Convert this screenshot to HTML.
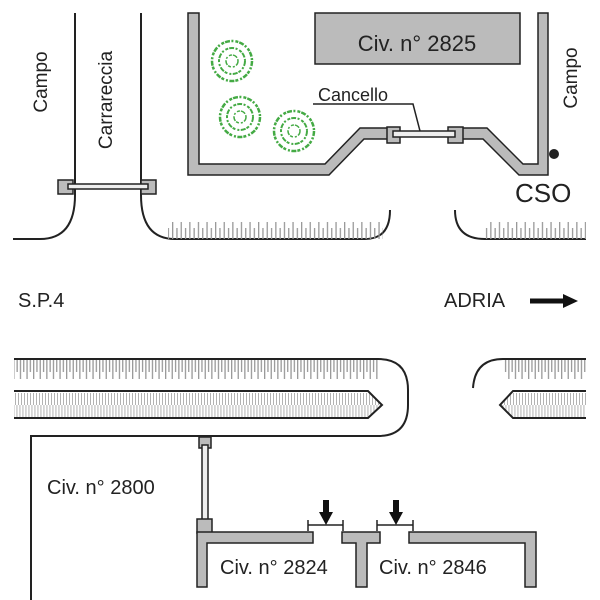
<!DOCTYPE html>
<html><head><meta charset="utf-8"><style>
html,body{margin:0;padding:0;background:#fff;width:600px;height:600px;overflow:hidden}
text{font-family:"Liberation Sans",sans-serif;fill:#222}
</style></head><body>
<svg width="600" height="600" viewBox="0 0 600 600" xmlns="http://www.w3.org/2000/svg">
<defs>
<pattern id="tu" x="0" y="219" width="8.6" height="20" patternUnits="userSpaceOnUse">
<rect x="0" y="3" width="1.3" height="17" fill="#999"/><rect x="4.3" y="9" width="1.3" height="11" fill="#999"/>
</pattern>
<pattern id="td" x="0" y="359" width="6.6" height="22" patternUnits="userSpaceOnUse">
<rect x="0" y="0" width="1.3" height="20" fill="#999"/><rect x="3.3" y="0" width="1.3" height="13" fill="#999"/>
</pattern>
<pattern id="tm" x="0" y="391" width="3" height="27" patternUnits="userSpaceOnUse">
<rect x="0" y="2" width="0.9" height="12" fill="#aaa"/><rect x="1.5" y="14" width="0.9" height="12" fill="#aaa"/>
</pattern>
</defs>
<g stroke="#222" stroke-width="2" fill="none">
<path d="M75 13 V195 Q75 239 40 239 H13"/>
<path d="M141 13 V195 Q141 239 175 239 H365 Q390 239 390 210"/>
<path d="M455 210 Q455 239 485 239 H586"/>
<path d="M14 359 H378 Q408 359 408 390 V405 Q408 436 378 436 H31 V600"/>
<path d="M473 388 Q475 359 503 359 H586"/>
</g>
<rect x="168" y="219" width="215" height="20" fill="url(#tu)"/>
<rect x="485" y="219" width="101" height="20" fill="url(#tu)"/>
<rect x="14" y="360" width="364" height="21" fill="url(#td)"/>
<rect x="503" y="360" width="83" height="21" fill="url(#td)"/>
<path d="M14 391 H368 L382 405 L368 418 H14 Z" fill="url(#tm)"/>
<path d="M14 391 H368 L382 405 L368 418 H14" fill="none" stroke="#222" stroke-width="2"/>
<path d="M586 391 H513 L500 405 L513 418 H586 Z" fill="url(#tm)"/>
<path d="M586 391 H513 L500 405 L513 418 H586" fill="none" stroke="#222" stroke-width="2"/>
<g stroke="#222" stroke-width="1.5">
<rect x="58" y="180" width="15" height="14" fill="#bbb"/>
<rect x="141" y="180" width="15" height="14" fill="#bbb"/>
<rect x="68" y="184" width="80" height="5" fill="#eee"/>
</g>
<path d="M188 13 H199 V164 H325 L360 128 H388 V139 H364 L329 175 H188 Z" fill="#bbb" stroke="#222" stroke-width="1.5"/>
<path d="M462 128 H487 L523 164 H538 V13 H548 V175 H519 L483 139 H462 Z" fill="#bbb" stroke="#222" stroke-width="1.5"/>
<g stroke="#222" stroke-width="1.5">
<rect x="387" y="127" width="13" height="16" fill="#bbb"/>
<rect x="448" y="127" width="15" height="16" fill="#bbb"/>
<rect x="393" y="131" width="62" height="6" fill="#eee"/>
</g>
<circle cx="554" cy="154" r="5" fill="#222"/>
<path d="M313 104 H413 L420 131" fill="none" stroke="#222" stroke-width="1.5"/>
<rect x="315" y="13" width="205" height="51" fill="#bbb" stroke="#222" stroke-width="1.5"/>
<text x="417" y="51" font-size="22" text-anchor="middle">Civ. n° 2825</text>
<text x="318" y="101" font-size="18">Cancello</text>
<text x="515" y="202" font-size="26">CSO</text>
<text transform="translate(47,82) rotate(-90)" font-size="19" text-anchor="middle">Campo</text>
<text transform="translate(112,100) rotate(-90)" font-size="19" text-anchor="middle">Carrareccia</text>
<text transform="translate(577,78) rotate(-90)" font-size="19" text-anchor="middle">Campo</text>
<g fill="none" stroke="#4a4" stroke-width="2.5" stroke-dasharray="5 1.5 2 2 3 1">
<circle cx="232" cy="61" r="20"/><circle cx="232" cy="61" r="13" stroke-width="2"/><circle cx="232" cy="61" r="6" stroke-width="1.5"/>
<circle cx="240" cy="117" r="20"/><circle cx="240" cy="117" r="13" stroke-width="2"/><circle cx="240" cy="117" r="6" stroke-width="1.5"/>
<circle cx="294" cy="131" r="20"/><circle cx="294" cy="131" r="13" stroke-width="2"/><circle cx="294" cy="131" r="6" stroke-width="1.5"/>
</g>
<text x="18" y="307" font-size="20">S.P.4</text>
<text x="444" y="307" font-size="20">ADRIA</text>
<path d="M530 301 H565" stroke="#111" stroke-width="5"/>
<path d="M563 294 L578 301 L563 308 Z" fill="#111"/>
<g stroke="#222" stroke-width="1.5">
<rect x="199" y="437" width="12" height="11" fill="#bbb"/>
<rect x="202" y="445" width="6" height="78" fill="#eee"/>
<rect x="197" y="519" width="15" height="14" fill="#bbb"/>
<path d="M197 532 H313 V543 H207 V587 H197 Z" fill="#bbb"/>
<path d="M342 532 H380 V543 H367 V587 H356 V543 H342 Z" fill="#bbb"/>
<path d="M409 532 H536 V587 H525 V543 H409 Z" fill="#bbb"/>
</g>
<g stroke="#222" stroke-width="1.5" fill="none">
<path d="M308 520 V531 M308 525 H343 M343 520 V531"/>
<path d="M377 520 V531 M377 525 H413 M413 520 V531"/>
</g>
<path d="M323 500 H329 V512 H333 L326 525 L319 512 H323 Z" fill="#111"/>
<path d="M393 500 H399 V512 H403 L396 525 L389 512 H393 Z" fill="#111"/>
<text x="47" y="494" font-size="20">Civ. n° 2800</text>
<text x="220" y="574" font-size="20">Civ. n° 2824</text>
<text x="379" y="574" font-size="20">Civ. n° 2846</text>
</svg>
</body></html>
